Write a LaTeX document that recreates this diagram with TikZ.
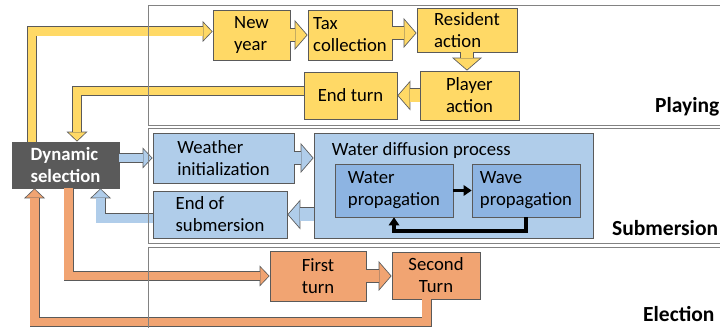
\documentclass[tikz,border=0pt]{standalone}
\usepackage{fontspec}
\setmainfont{Carlito}
\usetikzlibrary{arrows.meta}

\definecolor{yel}{RGB}{255,217,102}
\definecolor{blu}{RGB}{176,205,234}
\definecolor{bludark}{RGB}{141,180,226}
\definecolor{org}{RGB}{241,164,114}
\definecolor{dark}{RGB}{90,90,90}
\definecolor{boxline}{RGB}{90,90,90}
\definecolor{laneline}{RGB}{130,130,130}

\newcommand{\boxfont}{\fontsize{18.7}{22}\selectfont}
\newcommand{\lanefont}{\fontsize{21.5}{26}\selectfont\bfseries}

\tikzset{
  box/.style={draw=boxline, line width=0.8pt, align=left, inner sep=2pt, font=\boxfont},
  laneframe/.style={draw=laneline, line width=0.9pt},
  thinarrow/.style={preaction={draw=boxline, line width=10pt, shorten >=0pt,
      -{Triangle[length=10pt,width=21pt,line width=0pt]}},
    draw=#1, line width=8.4pt, shorten >=1.1pt,
    -{Triangle[length=8.1pt,width=17pt,line width=0pt]}},
  fatarrow/.style={preaction={draw=boxline, line width=14pt, shorten >=0pt,
      -{Triangle[length=13pt,width=30pt,line width=0pt]}},
    draw=#1, line width=12.4pt, shorten >=1.1pt,
    -{Triangle[length=11.1pt,width=25.6pt,line width=0pt]}},
  blackarrow/.style={draw=black, line width=3.5pt,
    -{Triangle[length=8pt,width=11pt,line width=0pt]}}
}

\begin{document}
\begin{tikzpicture}[x=1pt, y=-1pt]
    \useasboundingbox (0,0) rectangle (720,328);

    % playing
    \node[box, fill=yel, minimum width=77pt, minimum height=50pt] (newyear) at (251.5,35) {New\\year};
    \node[box, fill=yel, minimum width=84pt, minimum height=50pt] (tax) at (350,35) {Tax\\collection};
    \node[box, fill=yel, minimum width=100pt, minimum height=44pt] (resident) at (467,30) {Resident\\action};
    \node[box, fill=yel, minimum width=99pt, minimum height=49pt] (player) at (469.5,95.5) {Player\\action};
    \node[box, fill=yel, minimum width=93pt, minimum height=47pt] (endturn) at (350.5,95.5) {End turn};

    \node[box, fill=dark, text=white, font=\boxfont\bfseries, minimum width=107pt, minimum height=46pt] (dyn) at (65.5,165) {Dynamic\\selection};

    % submersion
    \node[box, fill=blu, minimum width=141pt, minimum height=50pt] (weather) at (223.5,158) {Weather\\initialization};
    \node[box, fill=blu, minimum width=134pt, minimum height=47pt] (endsub) at (220,214.5) {End of\\submersion};
    \node[box, fill=blu, minimum width=279pt, minimum height=105pt] (wdp) at (453.5,185.5) {};
    \node[font=\boxfont, anchor=base west, inner sep=0pt] (wdptitle) at ([xshift=18pt,yshift=-23pt]wdp.north west) {Water diffusion process};
    \node[box, fill=bludark, minimum width=118pt, minimum height=53pt] (waterprop) at (394,190.5) {Water\\propagation};
    \node[box, fill=bludark, minimum width=108pt, minimum height=53pt] (waveprop) at (526,190.5) {Wave\\propagation};

    % election
    \node[box, fill=org, minimum width=96pt, minimum height=50pt] (first) at (318,276) {First\\turn};
    \node[box, fill=org, align=center, minimum width=88pt, minimum height=47pt] (second) at (436,275.5) {Second\\Turn};

    \draw[thinarrow=yel] ([xshift=-33.5pt]dyn.north) |- ([yshift=3.5pt]newyear.west);
    \draw[fatarrow=yel] (newyear.east) -- (tax.west);
    \draw[fatarrow=yel] ([yshift=2pt]tax.east) -- ([yshift=2pt]tax.east -| resident.west);
    \draw[fatarrow=yel] (resident.south) -- (resident.south |- player.north);
    \draw[fatarrow=yel] (player.west) -- (player.west -| endturn.east);
    \draw[thinarrow=yel] ([yshift=4.5pt]endturn.west) -| ([xshift=11.5pt]dyn.north);

    \draw[thinarrow=blu] (dyn.east |- weather.west) -- (weather.west);
    \draw[fatarrow=blu] (weather.east) -- (weather.east -| wdp.west);
    \draw[fatarrow=blu] (endsub.east -| wdp.west) -- (endsub.east);
    \draw[thinarrow=blu] ([yshift=-4pt]endsub.west) -| ([xshift=35pt]dyn.south);
    \draw[blackarrow] (waterprop.east) -- (waveprop.west);
    \draw[blackarrow] (waveprop.south) -- ++(0,13.5) -| (waterprop.south);

    \draw[thinarrow=org] ([xshift=3pt]dyn.south) |- (first.west);
    \draw[fatarrow=org] (first.east) -- (first.east -| second.west);
    \draw[thinarrow=org] ([xshift=-9.5pt]second.south) -- ++(0,22.5) -| ([xshift=-31pt]dyn.south);

    \draw[laneframe] (148,5) rectangle (730,125);
    \draw[laneframe] (148,128.5) rectangle (730,243);
    \draw[laneframe] (148,247) rectangle (730,340);
    \node[font=\lanefont, anchor=base west, inner sep=0pt] (playing) at (655,113) {Playing};
    \node[font=\lanefont, anchor=base west, inner sep=0pt] (submersion) at (612,236) {Submersion};
    \node[font=\lanefont, anchor=base west, inner sep=0pt] (election) at (643,322) {Election};
\end{tikzpicture}
\end{document}
